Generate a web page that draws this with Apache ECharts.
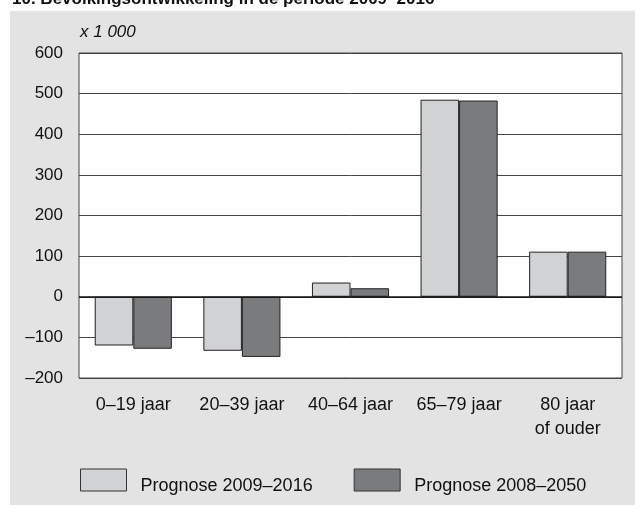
<!DOCTYPE html>
<html>
<head>
<meta charset="utf-8">
<script src="https://cdn.jsdelivr.net/npm/echarts@6/dist/echarts.min.js"></script>
<style>
html,body{margin:0;padding:0;background:#fff;}
#chart{width:635px;height:505px;}
</style>
</head>
<body>
<div id="chart"></div>
<script>
// leeftijdsgroepen
var categories = ['0\u201319 jaar', '20\u201339 jaar', '40\u201364 jaar', '65\u201379 jaar', '80 jaar\nof ouder'];
// x 1 000
var prognose2016 = [-120, -133, 35, 485, 111];
var prognose2050 = [-128, -148, 21, 483, 111];
var seriesNames = ['Prognose 2009\u20132016', 'Prognose 2008\u20132050'];
var yTicks = [-200, 600, 100]; // min, max, interval

var font = 'Liberation Sans, Arial, Helvetica, sans-serif';
var chart = echarts.init(document.getElementById('chart'));

var options = {
  backgroundColor: '#ffffff',
  animation: false,
  textStyle: {fontFamily: font},
  graphic: [
    {
      type: 'rect',
      z: -10,
      shape: {x: 10, y: 11, width: 625, height: 494},
      style: {fill: '#e2e3e2'}
    },
    {
      type: 'text',
      left: 12,
      top: -9,
      style: {
        text: '10. Bevolkingsontwikkeling in de periode 2009\u20132016',
        font: 'bold 17px ' + font,
        fill: '#111'
      }
    },
    {
      type: 'text',
      left: 80,
      top: 24,
      style: {
        text: 'x 1 000',
        font: 'italic 17px ' + font,
        fill: '#111'
      }
    }
  ],
  grid: {
    left: 79,
    top: 53,
    right: 13,
    bottom: 127,
    show: true,
    backgroundColor: '#ffffff',
    borderColor: '#444',
    borderWidth: 1
  },
  legend: {
    left: 80,
    top: 465,
    padding: 0,
    itemWidth: 46,
    itemHeight: 22,
    itemGap: 41,
    icon: 'rect',
    selectedMode: false,
    itemStyle: {borderWidth: 1, borderColor: '#333'},
    // lege regel boven de tekst zodat de tekst iets lager staat dan het vakje
    formatter: '{s|}\n{t|{name}}',
    textStyle: {
      fontSize: 18,
      color: '#111',
      padding: [0, 0, 0, 9],
      rich: {
        t: {fontSize: 18, color: '#111', lineHeight: 22},
        s: {fontSize: 8, lineHeight: 12}
      }
    },
    data: seriesNames
  },
  xAxis: {
    type: 'category',
    data: categories,
    axisLine: {onZero: false, show: false},
    axisTick: {show: false},
    axisLabel: {
      interval: 0,
      fontSize: 18,
      color: '#111',
      lineHeight: 24,
      margin: 15,
      align: 'center'
    }
  },
  yAxis: {
    type: 'value',
    min: yTicks[0],
    max: yTicks[1],
    interval: yTicks[2],
    axisLine: {show: false},
    axisTick: {show: false},
    axisLabel: {
      fontSize: 17,
      color: '#111',
      margin: 16,
      formatter: function (v) { return v < 0 ? '\u2013' + Math.abs(v) : String(v); }
    },
    splitLine: {lineStyle: {color: '#444', width: 1}}
  },
  series: [
    {
      name: seriesNames[0],
      type: 'bar',
      data: prognose2016,
      barGap: '0%',
      barCategoryGap: '29%',
      itemStyle: {color: '#d1d2d4', borderColor: '#222', borderWidth: 1},
      markLine: {
        silent: true,
        symbol: 'none',
        label: {show: false},
        lineStyle: {color: '#111', width: 1.5, type: 'solid'},
        data: [{yAxis: 0}]
      }
    },
    {
      name: seriesNames[1],
      type: 'bar',
      data: prognose2050,
      barGap: '0%',
      barCategoryGap: '29%',
      itemStyle: {color: '#7a7b7d', borderColor: '#222', borderWidth: 1}
    }
  ]
};
chart.setOption(options, true);
</script>
</body>
</html>
